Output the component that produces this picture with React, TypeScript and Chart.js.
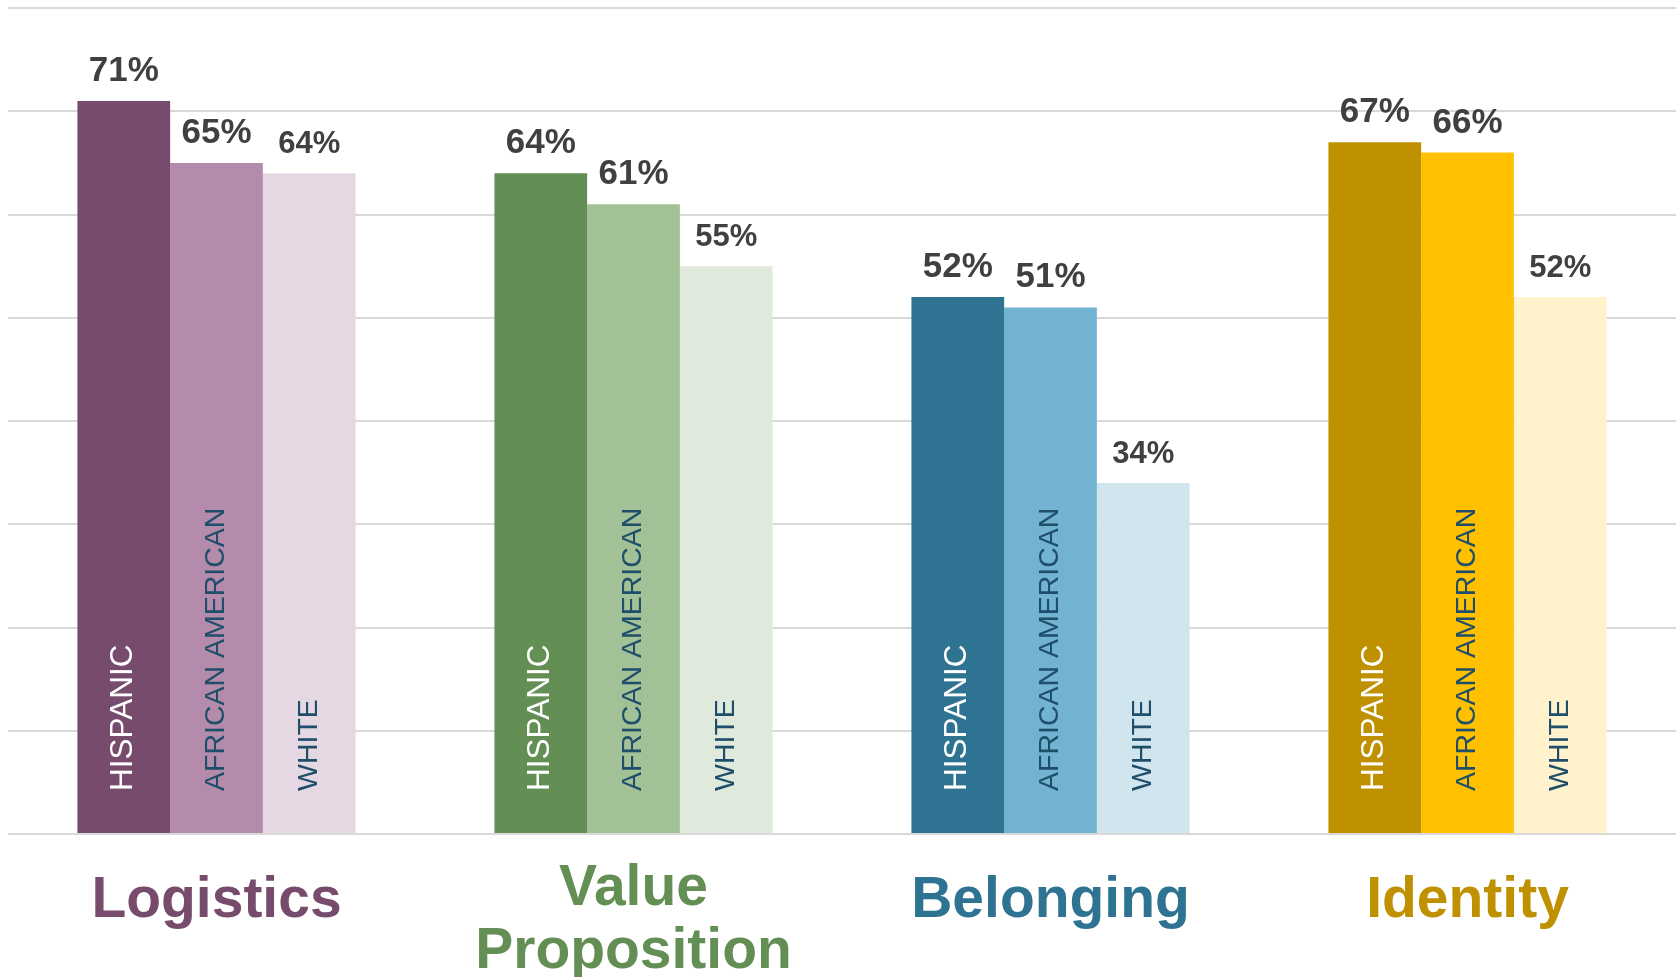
import React, { useEffect, useRef } from "react";
import { Chart, registerables } from "chart.js";

Chart.register(...registerables);

const categoryLines: string[][] = [["Logistics"], ["Value", "Proposition"], ["Belonging"], ["Identity"]];
const seriesNames = ["HISPANIC", "AFRICAN AMERICAN", "WHITE"];
const hispanic = [71, 64, 52, 67];
const africanAmerican = [65, 61, 51, 66];
const white = [64, 55, 34, 52];
const yTicksMax = 80;
const yTickStep = 10;

const hispanicColors = ["#764B6B", "#638F55", "#2E7391", "#BF9000"];
const africanAmericanColors = ["#B48BAA", "#A2C196", "#71B3D0", "#FFC000"];
const whiteColors = ["#E6D8E3", "#DFE9DC", "#D0E5EE", "#FFF2CC"];
const categoryColors = ["#764B6B", "#638F55", "#2E7391", "#BF9000"];

const FONT = '"Liberation Sans", Arial, sans-serif';

const labelPlugin = {
  id: "customLabels",
  afterDatasetsDraw(chart: any) {
    const ctx = chart.ctx;
    const y0 = chart.scales.y.getPixelForValue(0);
    chart.data.datasets.forEach((ds: any, i: number) => {
      const meta = chart.getDatasetMeta(i);
      meta.data.forEach((bar: any, j: number) => {
        const v = ds.data[j];
        ctx.save();
        ctx.fillStyle = "#404040";
        ctx.font = `bold ${i === 2 ? 31 : 35}px ${FONT}`;
        ctx.textAlign = "center";
        ctx.textBaseline = "alphabetic";
        ctx.fillText(v + "%", bar.x, bar.y - 20);
        ctx.translate(bar.x, y0 - 43);
        ctx.rotate(-Math.PI / 2);
        ctx.font = `${i === 0 ? 31.5 : 28.5}px ${FONT}`;
        ctx.fillStyle = i === 0 ? "#FFFFFF" : "#1F4E6B";
        ctx.textAlign = "left";
        ctx.textBaseline = "middle";
        ctx.fillText(seriesNames[i], 0, 0);
        ctx.restore();
      });
    });
    const xs = chart.scales.x;
    categoryLines.forEach((lines, j) => {
      const x = xs.getPixelForValue(j);
      const first = lines.length > 1 ? 71 : 83;
      ctx.save();
      ctx.fillStyle = categoryColors[j];
      ctx.font = `bold 57px ${FONT}`;
      ctx.textAlign = "center";
      ctx.textBaseline = "alphabetic";
      lines.forEach((line, k) => {
        ctx.fillText(line, x, y0 + first + k * 63);
      });
      ctx.restore();
    });
  },
};

export default function App() {
  const ref = useRef<HTMLCanvasElement>(null);
  useEffect(() => {
    if (!ref.current) return;
    const chart = new Chart(ref.current, {
      type: "bar",
      data: {
        labels: categoryLines.map((l) => l.join(" ")),
        datasets: [
          { label: seriesNames[0], data: hispanic, backgroundColor: hispanicColors, borderWidth: 0 },
          { label: seriesNames[1], data: africanAmerican, backgroundColor: africanAmericanColors, borderWidth: 0 },
          { label: seriesNames[2], data: white, backgroundColor: whiteColors, borderWidth: 0 },
        ],
      },
      options: {
        responsive: false,
        animation: false,
        layout: { padding: { left: 8, right: 0, top: 8, bottom: 143 } },
        plugins: { legend: { display: false }, tooltip: { enabled: false } },
        datasets: { bar: { categoryPercentage: 0.667, barPercentage: 1 } },
        scales: {
          x: { display: false },
          y: {
            min: 0,
            max: yTicksMax,
            ticks: { display: false, stepSize: yTickStep },
            grid: { color: "#D9D9D9", lineWidth: 2, drawTicks: false },
            border: { display: false },
          },
        },
      },
      plugins: [labelPlugin],
    });
    return () => chart.destroy();
  }, []);
  return (
    <div style={{ position: "fixed", left: 0, top: 0, width: 1676, height: 977, background: "#FFFFFF", overflow: "hidden" }}>
      <canvas ref={ref} width={1676} height={977} style={{ display: "block" }} />
    </div>
  );
}
